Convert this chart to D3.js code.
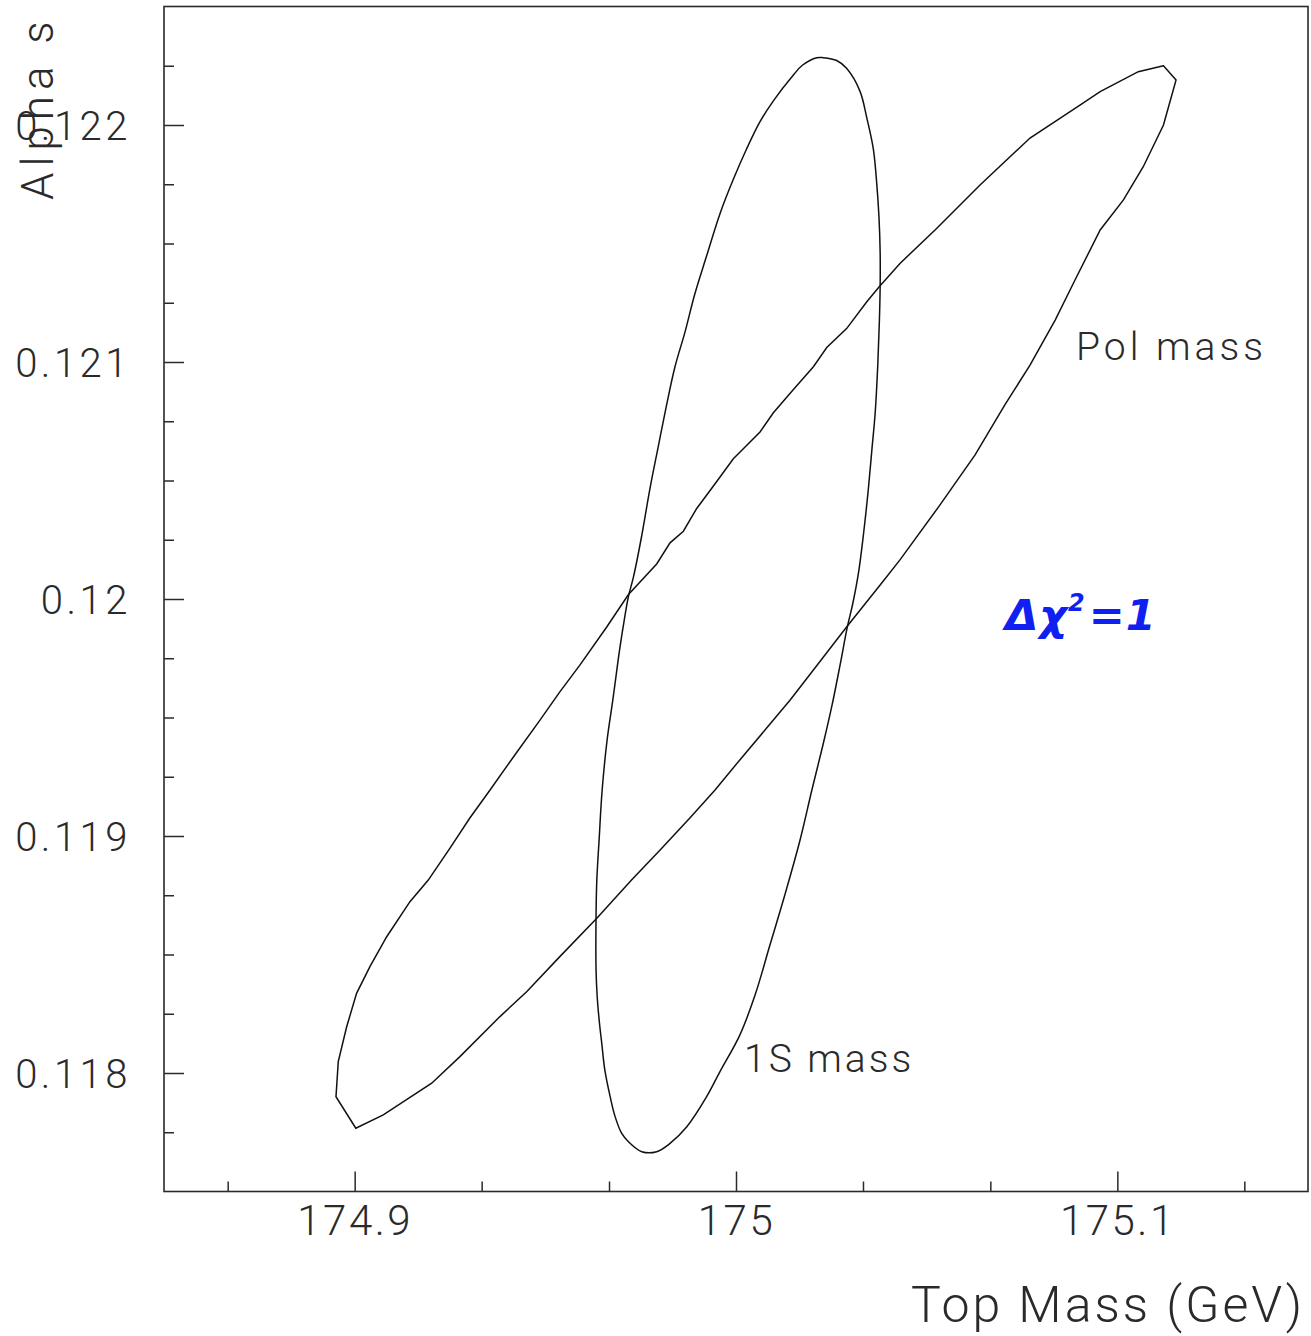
<!DOCTYPE html>
<html>
<head>
<meta charset="utf-8">
<script src="https://cdn.jsdelivr.net/npm/d3@7"></script>
<style>
  html, body { margin: 0; padding: 0; background: #fff; }
  svg { display: block; }
  text { font-family: "Roboto", "Liberation Sans", sans-serif; font-weight: 300; fill: #2a2a2a; }
</style>
</head>
<body>
<svg id="chart" width="1311" height="1336"></svg>
<script>
// ---- data ----
const xDomain = [174.85, 175.15];
const yDomain = [0.1175, 0.1225];
const xMajorTicks = [174.9, 175.0, 175.1];
const xTickLabels = ["174.9", "175", "175.1"];
const yMajorTicks = [0.118, 0.119, 0.120, 0.121, 0.122];
const yTickLabels = ["0.118", "0.119", "0.12", "0.121", "0.122"];
const xMinorTicks = [174.8667, 174.9333, 174.9667, 175.0333, 175.0667, 175.1333];
const yMinorTicks = [0.11775, 0.1180 + 0.00025, 0.1185, 0.11875, 0.11925, 0.1195, 0.11975,
                     0.12025, 0.1205, 0.12075, 0.12125, 0.1215, 0.12175, 0.12225];
const xTitle = "Top Mass (GeV)";
const yTitle = "Alpha s";
const seriesNames = ["1S mass", "Pol mass"];

// 1S mass contour (Δχ² = 1)
const mass1S_x = [175.0229,175.0264,175.0290,175.0325,175.0343,175.0360,175.0369,175.0375,175.0378,175.0378,
  175.0376,175.0372,175.0365,175.0356,175.0347,175.0334,175.0321,175.0306,175.0292,175.0273,
  175.0252,175.0228,175.0199,175.0168,175.0128,175.0089,175.0050,175.0010,174.9958,174.9923,
  174.9871,174.9827,174.9792,174.9753,174.9718,174.9700,174.9683,174.9670,174.9656,174.9648,
  174.9642,174.9636,174.9633,174.9633,174.9635,174.9641,174.9649,174.9662,174.9677,174.9691,
  174.9704,174.9718,174.9731,174.9753,174.9774,174.9796,174.9818,174.9840,174.9866,174.9892,
  174.9923,174.9958,174.9993,175.0028,175.0063,175.0098,175.0150,175.0174,175.0212];
const mass1S_y = [0.122284,0.122272,0.122239,0.122143,0.122030,0.121900,0.121755,0.121610,0.121464,0.121316,
  0.121173,0.120996,0.120786,0.120624,0.120463,0.120269,0.120108,0.119979,0.119882,0.119722,
  0.119553,0.119384,0.119194,0.118983,0.118751,0.118540,0.118329,0.118160,0.118006,0.117900,
  0.117773,0.117703,0.117668,0.117668,0.117710,0.117746,0.117816,0.117900,0.118013,0.118125,
  0.118210,0.118322,0.118435,0.118660,0.118814,0.118983,0.119194,0.119405,0.119574,0.119743,
  0.119882,0.120011,0.120092,0.120269,0.120463,0.120642,0.120819,0.120980,0.121125,0.121287,
  0.121448,0.121626,0.121771,0.121900,0.122014,0.122102,0.122210,0.122252,0.122284];

// Pole mass contour (Δχ² = 1)
const massPol_x = [175.1121,175.1055,175.0955,175.0902,175.0771,175.0640,175.0522,175.0430,175.0375,175.0343,
  175.0290,175.0238,175.0203,175.0150,175.0098,175.0063,174.9993,174.9949,174.9897,174.9862,
  174.9827,174.9792,174.9718,174.9661,174.9591,174.9538,174.9486,174.9420,174.9355,174.9302,
  174.9250,174.9193,174.9145,174.9084,174.9040,174.9005,174.8979,174.8957,174.8951,174.9003,
  174.9075,174.9202,174.9276,174.9381,174.9451,174.9538,174.9635,174.9726,174.9801,174.9879,
  174.9945,175.0010,175.0076,175.0142,175.0207,175.0290,175.0378,175.0430,175.0535,175.0627,
  175.0705,175.0771,175.0837,175.0889,175.0955,175.1016,175.1068,175.1121,175.1154];
const massPol_y = [0.122250,0.122225,0.122141,0.122084,0.121945,0.121747,0.121557,0.121416,0.121316,0.121254,
  0.121141,0.121061,0.120980,0.120883,0.120786,0.120705,0.120592,0.120495,0.120382,0.120286,
  0.120237,0.120148,0.120019,0.119882,0.119722,0.119608,0.119489,0.119342,0.119194,0.119076,
  0.118949,0.118814,0.118723,0.118575,0.118449,0.118336,0.118195,0.118048,0.117900,0.117767,
  0.117823,0.117957,0.118069,0.118238,0.118343,0.118491,0.118653,0.118814,0.118941,0.119076,
  0.119194,0.119321,0.119447,0.119574,0.119709,0.119882,0.120059,0.120165,0.120397,0.120608,
  0.120819,0.120987,0.121177,0.121346,0.121557,0.121684,0.121824,0.122000,0.122190];

// ---- drawing ----
const svg = d3.select("#chart");
const x = d3.scaleLinear().domain(xDomain).range([164, 1308]);
const y = d3.scaleLinear().domain(yDomain).range([1191.5, 6.5]);
const ink = "#2a2a2a";

// frame
svg.append("rect")
  .attr("x", x(xDomain[0])).attr("y", y(yDomain[1]))
  .attr("width", x(xDomain[1]) - x(xDomain[0]))
  .attr("height", y(yDomain[0]) - y(yDomain[1]))
  .attr("fill", "none").attr("stroke", ink).attr("stroke-width", 1.6);

function styleAxis(g) {
  g.select(".domain").remove();
  g.selectAll(".tick line").attr("stroke", ink).attr("stroke-width", 1.5);
}

// y axis (ticks inward)
const yLabelMap = new Map(yMajorTicks.map((v, i) => [v, yTickLabels[i]]));
svg.append("g").attr("transform", `translate(${x(xDomain[0])},0)`)
  .call(d3.axisLeft(y).tickValues(yMajorTicks).tickSize(-20).tickPadding(33)
    .tickFormat(d => yLabelMap.get(d)))
  .call(styleAxis)
  .call(g => g.selectAll("text").attr("font-size", 40).attr("letter-spacing", 3.5)
    .attr("fill", ink).attr("dy", "0.36em"));
svg.append("g").attr("transform", `translate(${x(xDomain[0])},0)`)
  .call(d3.axisLeft(y).tickValues(yMinorTicks).tickSize(-10).tickFormat(""))
  .call(styleAxis);

// x axis (ticks inward)
const xLabelMap = new Map(xMajorTicks.map((v, i) => [v, xTickLabels[i]]));
svg.append("g").attr("transform", `translate(0,${y(yDomain[0])})`)
  .call(d3.axisBottom(x).tickValues(xMajorTicks).tickSize(-20).tickPadding(14)
    .tickFormat(d => xLabelMap.get(d)))
  .call(styleAxis)
  .call(g => g.selectAll("text").attr("font-size", 42).attr("letter-spacing", 2.5)
    .attr("fill", ink));
svg.append("g").attr("transform", `translate(0,${y(yDomain[0])})`)
  .call(d3.axisBottom(x).tickValues(xMinorTicks).tickSize(-10).tickFormat(""))
  .call(styleAxis);

// axis titles
svg.append("text").attr("x", 1305).attr("y", 1322).attr("text-anchor", "end")
  .attr("font-size", 50).attr("letter-spacing", 3).text(xTitle);
svg.append("text").attr("transform", "translate(53,200) rotate(-90)")
  .attr("font-size", 44).attr("letter-spacing", 6).text(yTitle);

// contours
const c1S = d3.zip(mass1S_x, mass1S_y);
const cPol = d3.zip(massPol_x, massPol_y);
svg.append("path").datum(c1S)
  .attr("d", d3.line().x(d => x(d[0])).y(d => y(d[1])).curve(d3.curveCatmullRomClosed.alpha(0.5)))
  .attr("fill", "none").attr("stroke", "#111").attr("stroke-width", 1.5);
svg.append("path").datum(cPol)
  .attr("d", d3.line().x(d => x(d[0])).y(d => y(d[1])).curve(d3.curveLinearClosed))
  .attr("fill", "none").attr("stroke", "#111").attr("stroke-width", 1.5);

// labels
svg.append("text").attr("x", 1076).attr("y", 360).attr("font-size", 39)
  .attr("letter-spacing", 4).text(seriesNames[1]);
svg.append("text").attr("x", 744).attr("y", 1072).attr("font-size", 39)
  .attr("letter-spacing", 3).text(seriesNames[0]);

// hand-written annotation
const ann = svg.append("text").attr("x", 1005).attr("y", 630)
  .style("font-family", "'DejaVu Sans', sans-serif").style("font-weight", "bold")
  .style("font-style", "italic").style("font-size", "43px").style("fill", "#1020f0")
  .attr("letter-spacing", 1);
ann.append("tspan").text("Δχ");
ann.append("tspan").style("font-size", "24px").attr("dy", -19).text("2");
ann.append("tspan").attr("dy", 19).attr("dx", 3).text("=1");
</script>
</body>
</html>
